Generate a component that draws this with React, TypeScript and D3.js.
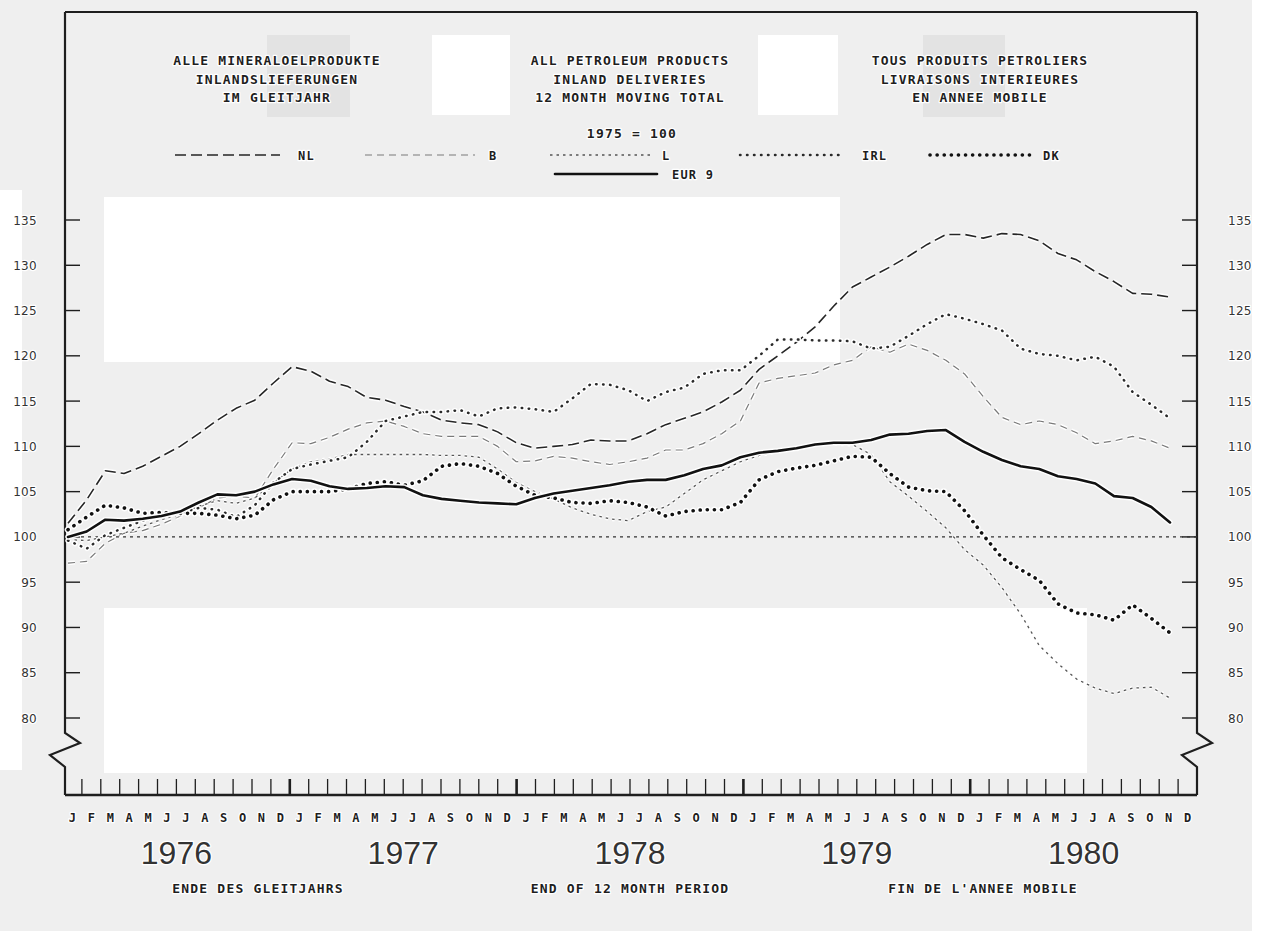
import * as d3 from 'd3';

// 12 month moving totals, 1975 = 100, Jan 1976 .. Dec 1980
const EUR9 = [
  100.0, 100.6, 101.9, 101.8, 102.0, 102.3, 102.8, 103.8, 104.7, 104.6, 105.0, 105.8,
  106.4, 106.2, 105.6, 105.3, 105.4, 105.6, 105.5, 104.6, 104.2, 104.0, 103.8, 103.7,
  103.6, 104.3, 104.8, 105.1, 105.4, 105.7, 106.1, 106.3, 106.3, 106.8, 107.5, 107.9,
  108.8, 109.3, 109.5, 109.8, 110.2, 110.4, 110.4, 110.7, 111.3, 111.4, 111.7, 111.8,
  110.5, 109.4, 108.5, 107.8, 107.5, 106.7, 106.4, 105.9, 104.5, 104.3, 103.3, 101.6,
];
const NL = [
  101.5, 104.1, 107.3, 107.0, 107.8, 108.9, 110.0, 111.4, 112.9, 114.2, 115.1, 117.0,
  118.8, 118.3, 117.2, 116.6, 115.4, 115.1, 114.4, 113.8, 112.9, 112.6, 112.4, 111.6,
  110.4, 109.8, 110.0, 110.2, 110.7, 110.6, 110.6, 111.4, 112.4, 113.1, 113.8, 114.9,
  116.2, 118.5, 120.0, 121.5, 123.2, 125.5, 127.6, 128.7, 129.8, 131.0, 132.3, 133.4,
  133.4, 133.0, 133.5, 133.4, 132.7, 131.3, 130.6, 129.3, 128.2, 126.9, 126.8, 126.5,
];
const B = [
  97.1, 97.3, 99.3, 100.4, 100.7, 101.4, 102.3, 103.2, 104.3, 104.5, 104.3, 107.5,
  110.4, 110.3, 111.0, 111.9, 112.6, 112.8, 112.2, 111.4, 111.1, 111.1, 111.1, 110.0,
  108.3, 108.4, 108.9, 108.7, 108.3, 108.0, 108.3, 108.7, 109.6, 109.6, 110.3, 111.4,
  112.8, 117.0, 117.5, 117.8, 118.1, 119.0, 119.5, 121.0, 120.4, 121.3, 120.6, 119.5,
  118.0, 115.5, 113.2, 112.4, 112.8, 112.4, 111.5, 110.3, 110.6, 111.1, 110.6, 109.8,
];
const L = [
  99.7, 99.6, 100.0, 100.4, 101.2, 101.9, 102.5, 103.4, 104.0, 103.7, 104.3, 106.0,
  107.5, 108.3, 108.6, 109.1, 109.1, 109.1, 109.1, 109.1, 109.0, 109.0, 108.8, 107.5,
  106.0, 105.0, 104.2, 103.2, 102.5, 102.0, 101.8, 102.8, 103.3, 104.8, 106.3, 107.3,
  108.3, 109.0, 109.5, 109.7, 110.2, 110.3, 110.2, 109.1, 106.1, 104.5, 102.8, 101.0,
  98.6, 96.9, 94.4, 91.5, 88.0, 86.0, 84.3, 83.3, 82.7, 83.3, 83.4, 82.2,
];
const IRL = [
  99.6, 98.7, 100.2, 101.0, 101.8, 102.3, 102.6, 103.2, 103.0, 102.2, 103.5, 106.0,
  107.5, 108.0, 108.4, 108.8, 110.5, 112.8, 113.3, 113.8, 113.8, 114.0, 113.3, 114.2,
  114.3, 114.1, 113.8, 115.3, 116.9, 116.8, 116.2, 115.0, 116.0, 116.5, 118.0, 118.4,
  118.4, 120.0, 121.8, 121.8, 121.7, 121.7, 121.6, 120.8, 121.0, 122.2, 123.5, 124.6,
  124.1, 123.5, 122.8, 120.8, 120.2, 120.0, 119.5, 119.9, 118.8, 116.0, 114.6, 113.1,
];
const DK = [
  100.8, 102.2, 103.5, 103.2, 102.6, 102.7, 102.6, 102.6, 102.4, 102.0, 102.4, 104.1,
  105.0, 105.0, 105.0, 105.3, 105.9, 106.1, 105.7, 106.2, 107.8, 108.1, 107.8, 107.0,
  105.6, 104.6, 104.3, 103.8, 103.7, 104.0, 103.8, 103.3, 102.3, 102.8, 103.0, 103.0,
  103.8, 106.3, 107.2, 107.6, 107.9, 108.4, 108.9, 108.8, 107.0, 105.5, 105.1, 105.0,
  102.9, 100.2, 97.7, 96.4, 95.2, 92.6, 91.6, 91.4, 90.8, 92.5, 91.0, 89.4,
];

const MONTHS = ['J', 'F', 'M', 'A', 'M', 'J', 'J', 'A', 'S', 'O', 'N', 'D'];
const YEARS = [1976, 1977, 1978, 1979, 1980];
const Y_TICKS = [80, 85, 90, 95, 100, 105, 110, 115, 120, 125, 130, 135];

const TITLE_DE = ['ALLE MINERALOELPRODUKTE', 'INLANDSLIEFERUNGEN', 'IM GLEITJAHR'];
const TITLE_EN = ['ALL PETROLEUM PRODUCTS', 'INLAND DELIVERIES', '12 MONTH MOVING TOTAL'];
const TITLE_FR = ['TOUS PRODUITS PETROLIERS', 'LIVRAISONS INTERIEURES', 'EN ANNEE MOBILE'];
const FOOT = ['ENDE DES GLEITJAHRS', 'END OF 12 MONTH PERIOD', "FIN DE L'ANNEE MOBILE"];

const VW = 1261;
const VH = 931;
const LEFT = 65;
const RIGHT = 1197;
const TOP = 12;
const BOTTOM = 795;

const MONO = '"DejaVu Sans Mono", "Liberation Mono", monospace';
const INK = '#1e1e1e';

const STYLES: Record<string, { color: string; width: number; dash: string; cap: 'round' | 'butt' }> = {
  NL: { color: '#262626', width: 1.6, dash: '11 5', cap: 'butt' },
  B: { color: '#7a7a7a', width: 1.2, dash: '7 5', cap: 'butt' },
  L: { color: '#555', width: 1.3, dash: '2.5 4', cap: 'butt' },
  IRL: { color: '#2a2a2a', width: 2.5, dash: '0.5 6.5', cap: 'round' },
  DK: { color: '#111', width: 3.6, dash: '0.1 7', cap: 'round' },
  EUR9: { color: '#111', width: 2.6, dash: '', cap: 'round' },
};

const SERIES = [
  { key: 'NL', values: NL },
  { key: 'B', values: B },
  { key: 'L', values: L },
  { key: 'IRL', values: IRL },
  { key: 'DK', values: DK },
  { key: 'EUR9', values: EUR9 },
];

const N = EUR9.length;
const idx = d3.range(N);

const x = d3.scaleLinear().domain([0, N - 1]).range([68, 1170]);
const y = d3.scaleLinear().domain([80, 135]).range([718, 220]);
const band = d3.scaleBand<number>().domain(idx).range([63, RIGHT]);

const line = d3.line<number>()
  .x((_, i) => x(i))
  .y(v => y(v))
  .curve(d3.curveLinear);

const halo = { stroke: '#fff', strokeWidth: 2.5, paintOrder: 'stroke' as const, strokeLinejoin: 'round' as const };

function Txt(props: { x: number; y: number; anchor?: string; size?: number; family?: string; spacing?: number; fill?: string; weight?: string | number; children: any }) {
  return (
    <text x={props.x} y={props.y} textAnchor={props.anchor ?? 'middle'} fontSize={props.size ?? 13}
      fontFamily={props.family ?? MONO} letterSpacing={props.spacing ?? 1.2} fill={props.fill ?? INK}
      fontWeight={props.weight ?? 'bold'} {...halo}>
      {props.children}
    </text>
  );
}

const LEGEND = [
  { key: 'NL', x1: 175, x2: 280, ly: 155, label: 'NL', tx: 298 },
  { key: 'B', x1: 365, x2: 475, ly: 155, label: 'B', tx: 489 },
  { key: 'L', x1: 550, x2: 650, ly: 155, label: 'L', tx: 662 },
  { key: 'IRL', x1: 740, x2: 842, ly: 155, label: 'IRL', tx: 862 },
  { key: 'DK', x1: 930, x2: 1030, ly: 155, label: 'DK', tx: 1043 },
  { key: 'EUR9', x1: 555, x2: 657, ly: 174, label: 'EUR 9', tx: 672 },
];

// scan tiles of the original sheet
const PATCHES = [
  { x: 104, y: 197, w: 736, h: 165, c: '#ffffff' },
  { x: 104, y: 608, w: 983, h: 165, c: '#ffffff' },
  { x: 432, y: 35, w: 78, h: 80, c: '#ffffff' },
  { x: 758, y: 35, w: 80, h: 80, c: '#ffffff' },
  { x: 267, y: 35, w: 83, h: 82, c: '#e3e3e3' },
  { x: 923, y: 35, w: 82, h: 82, c: '#e3e3e3' },
  { x: 0, y: 190, w: 22, h: 580, c: '#ffffff' },
  { x: 1252, y: 0, w: 9, h: 931, c: '#ffffff' },
];

function zigzag(x0: number) {
  return `M${x0},${TOP} L${x0},733 L${x0 + 15},743 L${x0 - 15},755 L${x0},767 L${x0},${BOTTOM}`;
}

export default function App() {
  const yearTicks = new Set([11, 23, 35, 47]);
  return (
    <svg width={VW} height={VH} viewBox={`0 0 ${VW} ${VH}`}
      style={{ position: 'absolute', left: 0, top: 0, display: 'block' }}>
      <rect x={0} y={0} width={VW} height={VH} fill="#efefef" />
      {PATCHES.map((p, i) => (
        <rect key={i} x={p.x} y={p.y} width={p.w} height={p.h} fill={p.c} />
      ))}

      {/* frame */}
      <line x1={LEFT} y1={TOP} x2={RIGHT} y2={TOP} stroke={INK} strokeWidth={2} />
      <path d={zigzag(LEFT)} fill="none" stroke={INK} strokeWidth={2.2} />
      <path d={zigzag(RIGHT)} fill="none" stroke={INK} strokeWidth={2.2} />
      <line x1={LEFT} y1={BOTTOM} x2={RIGHT} y2={BOTTOM} stroke={INK} strokeWidth={2.4} />

      {/* titles */}
      {TITLE_DE.map((t, i) => <Txt key={`de${i}`} x={277} y={65 + i * 18.5}>{t}</Txt>)}
      {TITLE_EN.map((t, i) => <Txt key={`en${i}`} x={630} y={65 + i * 18.5}>{t}</Txt>)}
      {TITLE_FR.map((t, i) => <Txt key={`fr${i}`} x={980} y={65 + i * 18.5}>{t}</Txt>)}
      <Txt x={632} y={138}>1975 = 100</Txt>

      {/* legend */}
      {LEGEND.map(l => {
        const s = STYLES[l.key];
        return (
          <g key={l.key}>
            <line x1={l.x1} y1={l.ly} x2={l.x2} y2={l.ly} stroke={s.color} strokeWidth={s.width}
              strokeDasharray={s.dash || undefined} strokeLinecap={s.cap} />
            <Txt x={l.tx} y={l.ly + 4.5} anchor="start" size={12}>{l.label}</Txt>
          </g>
        );
      })}

      {/* y axis ticks and labels */}
      {Y_TICKS.map(t => (
        <g key={t}>
          <line x1={LEFT} x2={LEFT + 15} y1={y(t)} y2={y(t)} stroke={INK} strokeWidth={1.4} />
          <line x1={RIGHT - 15} x2={RIGHT} y1={y(t)} y2={y(t)} stroke={INK} strokeWidth={1.4} />
          <Txt x={37} y={y(t) + 4.5} anchor="end" size={12} family='"DejaVu Sans", sans-serif' spacing={0.3} fill="#333" weight="normal">{t}</Txt>
          <Txt x={1228} y={y(t) + 4.5} anchor="start" size={12} family='"DejaVu Sans", sans-serif' spacing={0.3} fill="#333" weight="normal">{t}</Txt>
        </g>
      ))}

      {/* base line 100 */}
      <line x1={LEFT + 2} x2={RIGHT} y1={y(100)} y2={y(100)} stroke="#333" strokeWidth={1.1} strokeDasharray="3 4" />

      {/* series */}
      {SERIES.map(s => {
        const st = STYLES[s.key];
        const d = line(s.values) ?? '';
        return (
          <g key={s.key}>
            <path d={d} fill="none" stroke="#fff" strokeWidth={st.width + 3}
              strokeDasharray={st.dash || undefined} strokeLinecap={st.cap} strokeLinejoin="round" opacity={0.95} />
            <path d={d} fill="none" stroke={st.color} strokeWidth={st.width}
              strokeDasharray={st.dash || undefined} strokeLinecap={st.cap} strokeLinejoin="round" />
          </g>
        );
      })}

      {/* month ticks */}
      {idx.slice(0, N - 1).map(i => {
        const tx = (band(i) ?? 0) + band.bandwidth();
        const yr = yearTicks.has(i);
        return (
          <line key={`t${i}`} x1={tx} x2={tx} y1={BOTTOM} y2={BOTTOM - 16}
            stroke={INK} strokeWidth={yr ? 2.6 : 1.3} />
        );
      })}

      {/* month labels */}
      {idx.map(i => (
        <Txt key={`m${i}`} x={(band(i) ?? 0) + band.bandwidth() / 2} y={822} size={12} spacing={0}>
          {MONTHS[i % 12]}
        </Txt>
      ))}

      {/* years */}
      {YEARS.map((yr, k) => (
        <Txt key={yr} x={(band(k * 12 + 5) ?? 0) + band.bandwidth()} y={864} size={32}
          family='"Liberation Sans", Arimo, sans-serif' spacing={0} fill="#333" weight="normal">
          {yr}
        </Txt>
      ))}

      {/* footers */}
      <Txt x={258} y={893}>{FOOT[0]}</Txt>
      <Txt x={630} y={893}>{FOOT[1]}</Txt>
      <Txt x={983} y={893}>{FOOT[2]}</Txt>
    </svg>
  );
}
